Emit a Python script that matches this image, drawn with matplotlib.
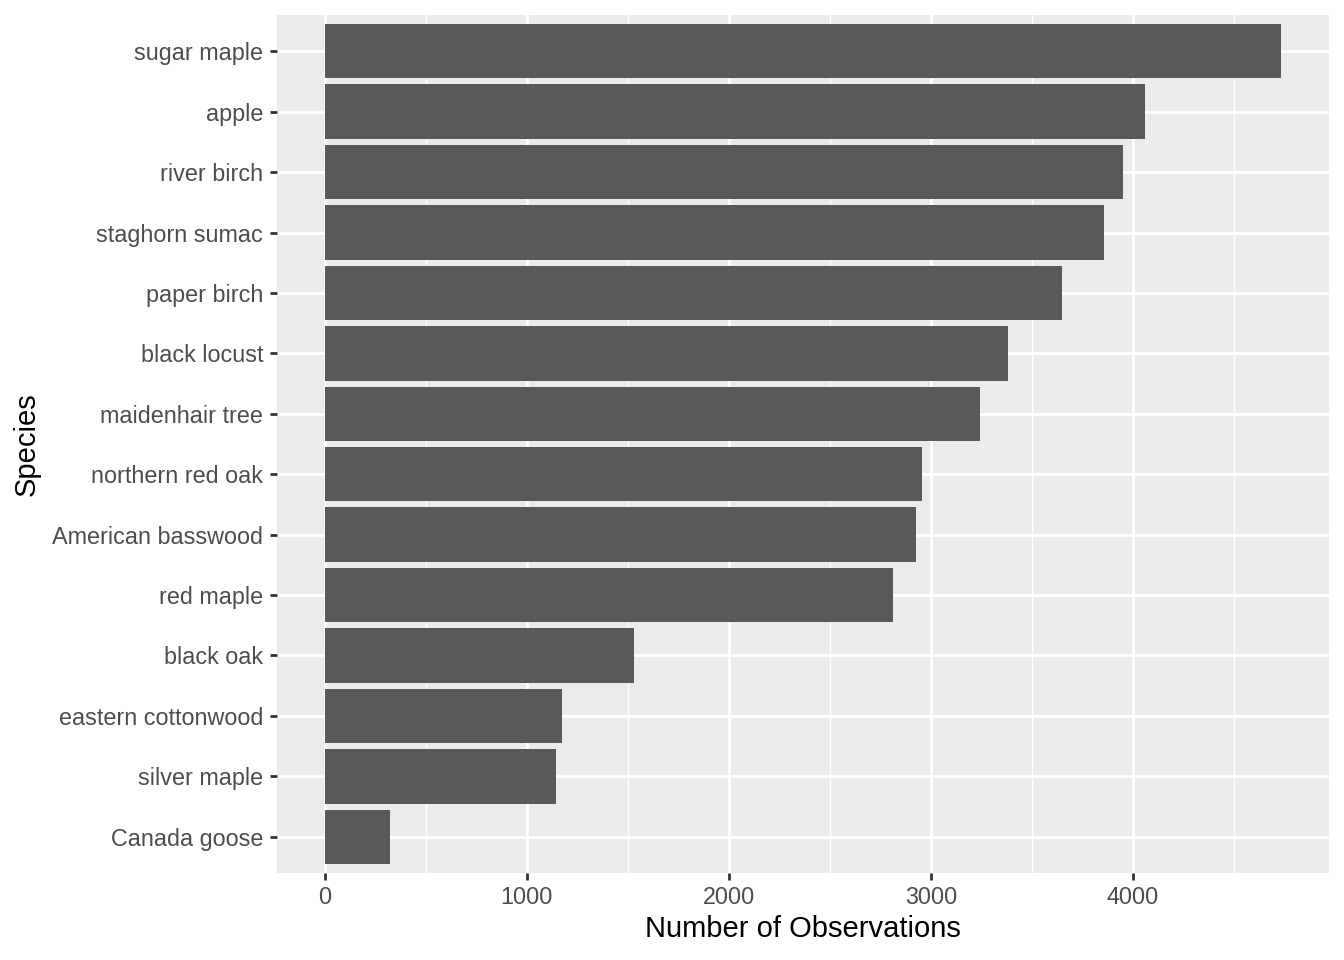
import matplotlib
matplotlib.use("Agg")
import matplotlib.pyplot as plt
import numpy as np

species = ["sugar maple", "apple", "river birch", "staghorn sumac", "paper birch",
           "black locust", "maidenhair tree", "northern red oak", "American basswood",
           "red maple", "black oak", "eastern cottonwood", "silver maple", "Canada goose"]
counts = [4733, 4060, 3952, 3858, 3650, 3383, 3244, 2953, 2928, 2814, 1528, 1172, 1142, 321]
xticks = [0, 1000, 2000, 3000, 4000]

plt.rcParams['font.family'] = ['Liberation Sans', 'DejaVu Sans']

fig = plt.figure(figsize=(13.44, 9.6), dpi=100)
ax = fig.add_axes([277/1344, 1-873/960, (1329-277)/1344, (873-15)/960])
ax.set_facecolor('#EBEBEB')

n = len(species)
ypos = np.arange(n, 0, -1)
ax.barh(ypos, counts, height=0.9, color='#595959', zorder=3)

xmax = max(counts)
ax.set_xlim(-0.05*xmax, 1.05*xmax)
ax.set_ylim(0.4, n + 0.6)

ax.set_xticks(xticks)
ax.set_xticklabels([str(v) for v in xticks])
ax.set_xticks([500, 1500, 2500, 3500, 4500], minor=True)
ax.set_yticks(ypos)
ax.set_yticklabels(species)

ax.grid(which='major', color='white', linewidth=2.0, zorder=1)
ax.grid(which='minor', axis='x', color='white', linewidth=1.0, zorder=1)
ax.set_axisbelow(True)

for s in ax.spines.values():
    s.set_visible(False)

ax.tick_params(axis='y', which='major', length=5, width=2.0, color='#333333',
               labelcolor='#4D4D4D', labelsize=16.8, pad=5)
ax.tick_params(axis='x', which='major', length=5, width=2.0, color='#333333',
               labelcolor='#4D4D4D', labelsize=16.8, pad=4)
ax.tick_params(axis='both', which='minor', length=0)

ax.set_xlabel("Number of Observations", fontsize=21, color='black', labelpad=5)
ax.set_ylabel("Species", fontsize=21, color='black', labelpad=8)

fig.savefig("out.png", dpi=100)
